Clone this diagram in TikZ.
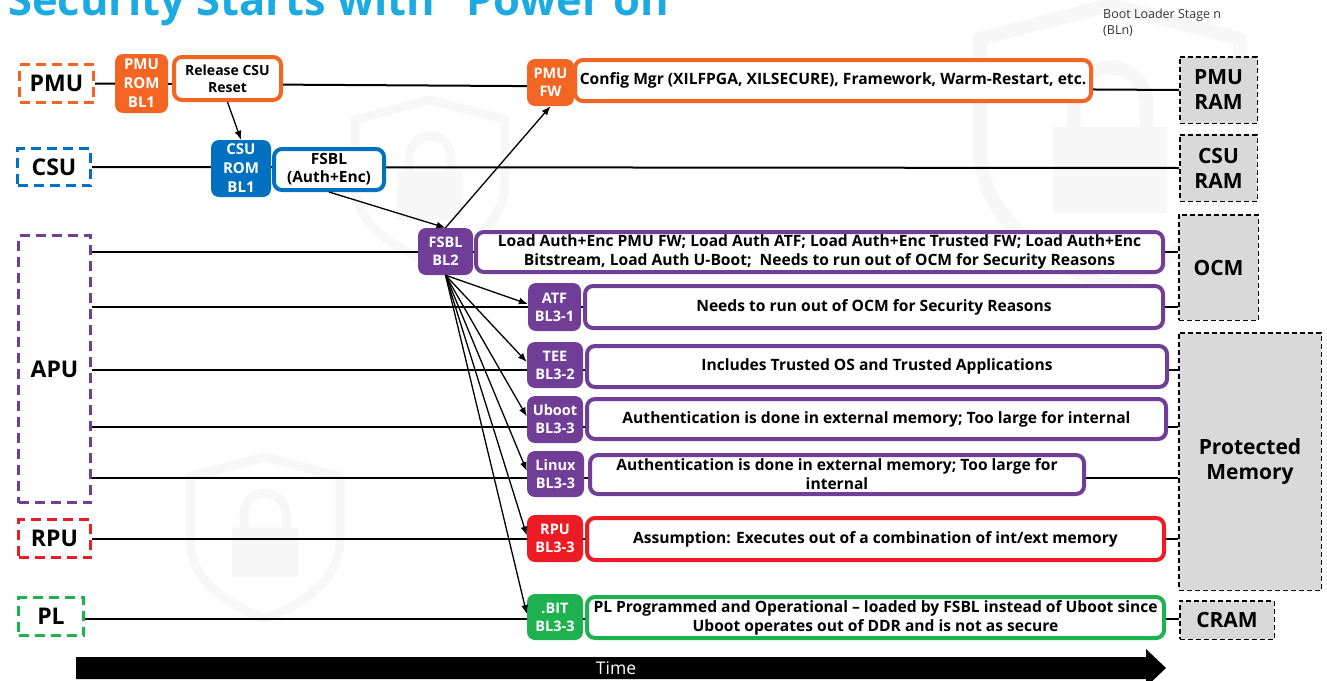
\documentclass[tikz,border=0pt]{standalone}
\usepackage{fontspec}
\setmainfont{Open Sans}
\usetikzlibrary{arrows.meta,calc}
\definecolor{xorange}{RGB}{242,101,34}
\definecolor{xblue}{RGB}{0,112,192}
\definecolor{xpurple}{RGB}{112,62,151}
\definecolor{xred}{RGB}{237,28,36}
\definecolor{xgreen}{RGB}{29,177,80}
\definecolor{xcyan}{RGB}{27,170,225}
\definecolor{memgray}{RGB}{217,217,217}
\definecolor{faint}{RGB}{247,247,247}
\pgfdeclarelayer{marks}
\pgfdeclarelayer{bg}
\pgfsetlayers{marks,bg,main}
\tikzset{
  src/.style={draw=#1, line width=3pt, dash pattern=on 10pt off 6pt,
    font=\fontsize{23}{26}\selectfont\bfseries, inner sep=0pt},
  tag/.style={fill=#1, rounded corners=8pt, text=white,
    font=\fontsize{14.5}{18}\selectfont\bfseries, align=center, inner sep=0pt},
  info/.style={draw=#1, fill=white, line width=4pt, rounded corners=8pt,
    font=\fontsize{15.6}{19}\selectfont\bfseries, align=center, inner sep=0pt},
  mem/.style={draw=black, fill=memgray, line width=1.5pt, dash pattern=on 5pt off 3pt,
    font=\fontsize{21}{25}\selectfont\bfseries, align=center, inner sep=0pt},
  wire/.style={line width=2pt},
  feed/.style={line width=1.3pt, -{Latex[length=9pt,width=7pt]}},
  % faint shield-and-padlock emblem in the background; unit size = width
  pics/shieldmark/.style={code={
    \draw[faint, line width=#1, line join=round]
      (0,0) -- (0.5,0.13) -- (0.5,0.55)
      .. controls (0.5,0.85) and (0.2,1.0) .. (0,1.08)
      .. controls (-0.2,1.0) and (-0.5,0.85) .. (-0.5,0.55)
      -- (-0.5,0.13) -- cycle;
    \draw[faint, line width=#1] (-0.14,0.5) -- (-0.14,0.38)
      arc[start angle=180, end angle=0, x radius=0.14, y radius=-0.14] -- (0.14,0.5);
    \fill[faint, rounded corners=0.04] (-0.22,0.47) rectangle (0.22,0.8);
  }},
}
\begin{document}
\begin{tikzpicture}[x=1pt,y=-1pt]
\useasboundingbox (0,0) rectangle (1327,680);

\begin{pgfonlayer}{marks}
  \pic[scale=150] at (430,100) {shieldmark=9pt};
  \pic[scale=150] at (265,457) {shieldmark=9pt};
  \pic[scale=260] at (1110,5) {shieldmark=14pt};
\end{pgfonlayer}

% title, partly above the page edge
\node[anchor=base west, inner sep=0pt, text=xcyan,
  font=\fontsize{43.5}{46}\selectfont\bfseries] (title) at (8,15)
  {Security Starts with “Power on”};

\node[anchor=north west, inner sep=0pt, text=black!80, align=left,
  font=\fontsize{12.5}{15.5}\selectfont] (legend) at (1103,9)
  {Boot Loader Stage n\\(BLn)};

% processing units
\node[src=xorange, minimum width=74pt, minimum height=38pt] (pmu) at (56.5,83.5) {PMU};
\node[src=xblue,   minimum width=73pt, minimum height=37pt] (csu) at (54,167) {CSU};
\node[src=xpurple, minimum width=72pt, minimum height=267pt] (apu) at (54.5,369) {APU};
\node[src=xred,    minimum width=72pt, minimum height=38pt] (rpu) at (54.5,538.5) {RPU};
\node[src=xgreen,  minimum width=65pt, minimum height=38pt] (pl)  at (51,616.5) {PL};

% boot stages
\node[tag=xorange, minimum width=53pt, minimum height=59pt, font=\fontsize{15}{19}\selectfont\bfseries]
  (pmurom) at (141.5,83.5) {PMU\\ROM\\BL1};
\node[info=xorange, minimum width=107pt, minimum height=43pt, font=\fontsize{14}{17}\selectfont\bfseries]
  (release) at (227.5,78.5) {Release CSU\\Reset};
\node[tag=xblue, minimum width=60pt, minimum height=57pt, font=\fontsize{15}{19}\selectfont\bfseries]
  (csurom) at (241,168.5) {CSU\\ROM\\BL1};
\node[info=xblue, minimum width=110pt, minimum height=41pt, font=\fontsize{15.5}{18}\selectfont\bfseries]
  (fsbl1) at (329,169.5) {FSBL\\(Auth+Enc)};

\node[tag=xorange, minimum width=47pt, minimum height=47pt] (pmufw) at (550.5,82.5) {PMU\\FW};
\node[info=xorange, minimum width=516pt, minimum height=41pt] (cfg) at (833,80.5)
  {Config Mgr (XILFPGA, XILSECURE), Framework, Warm-Restart, etc.};

\node[tag=xpurple, minimum width=55pt, minimum height=47pt] (fsbl2) at (445.5,251.5) {FSBL\\BL2};
\node[info=xpurple, minimum width=687pt, minimum height=40pt] (dfsbl2) at (819.5,252)
  {Load Auth+Enc PMU FW; Load Auth ATF; Load Auth+Enc Trusted FW; Load Auth+Enc\\
   Bitstream, Load Auth U-Boot;\ \ Needs to run out of OCM for Security Reasons};

\node[tag=xpurple, minimum width=53pt, minimum height=48pt] (atf) at (554.5,307) {ATF\\BL3-1};
\node[info=xpurple, minimum width=578pt, minimum height=42pt] (datf) at (874,307)
  {Needs to run out of OCM for Security Reasons};

\node[tag=xpurple, minimum width=56pt, minimum height=46pt] (tee) at (555,365) {TEE\\BL3-2};
\node[info=xpurple, minimum width=580pt, minimum height=41pt] (dtee) at (877,366.5)
  {Includes Trusted OS and Trusted Applications};

\node[tag=xpurple, minimum width=56pt, minimum height=47pt] (uboot) at (555,419.5) {Uboot\\BL3-3};
\node[info=xpurple, minimum width=579pt, minimum height=40pt] (duboot) at (876.5,419)
  {Authentication is done in external memory; Too large for internal};

\node[tag=xpurple, minimum width=57pt, minimum height=46pt] (linux) at (555.5,474) {Linux\\BL3-3};
\node[info=xpurple, minimum width=494pt, minimum height=39pt] (dlinux) at (837,474.5)
  {Authentication is done in external memory; Too large for\\internal};

\node[tag=xred, minimum width=56pt, minimum height=47pt] (rpul) at (555,538.5) {RPU\\BL3-3};
\node[info=xred, minimum width=577pt, minimum height=42pt] (drpu) at (875.5,539)
  {Assumption: Executes out of a combination of int/ext memory};

\node[tag=xgreen, minimum width=56pt, minimum height=46pt] (bit) at (555,617) {.BIT\\BL3-3};
\node[info=xgreen, minimum width=577pt, minimum height=41pt] (dbit) at (875.5,617.5)
  {PL Programmed and Operational – loaded by FSBL instead of Uboot since\\
   Uboot operates out of DDR and is not as secure};

% memories
\node[mem, minimum width=77.5pt, minimum height=66.5pt] (pmuram) at (1218.5,90) {PMU\\RAM};
\node[mem, minimum width=77.5pt, minimum height=66.5pt] (csuram) at (1218.5,168) {CSU\\RAM};
\node[mem, minimum width=79.5pt, minimum height=105.5pt] (ocm) at (1218.5,267.5) {OCM};
\node[mem, minimum width=142.5pt, minimum height=257.5pt] (pmem) at (1250,461.5) {Protected\\Memory};
\node[mem, minimum width=94.5pt, minimum height=38.5pt] (cram) at (1227,620) {CRAM};

% rows of the timeline wires that sit off the stage centres
\coordinate (teerow) at (0,370);
\coordinate (ubootrow) at (0,427);
\coordinate (linuxrow) at (0,478);
\coordinate (plrow) at (0,619);

\begin{pgfonlayer}{bg}
  \draw[wire] (pmu.east) -- (pmuram.west);
  \draw[wire] (csu.east) -- (csuram.west);
  \draw[wire] (apu.east |- fsbl2.west) -- (ocm.west |- fsbl2.west);
  \draw[wire] (apu.east |- atf.west) -- (ocm.west |- atf.west);
  \draw[wire] (apu.east |- teerow) -- (pmem.west |- teerow);
  \draw[wire] (apu.east |- ubootrow) -- (pmem.west |- ubootrow);
  \draw[wire] (apu.east |- linuxrow) -- (pmem.west |- linuxrow);
  \draw[wire] (rpu.east) -- (pmem.west |- rpu.east);
  \draw[wire] (pl.east |- plrow) -- (cram.west |- plrow);
\end{pgfonlayer}

% hand-offs between stages
\draw[feed] (release.south) -- (csurom.north);
\draw[feed] (fsbl1.south) -- (fsbl2.north);
\draw[feed] (fsbl2.north) -- (pmufw.south);
\foreach \t in {atf,tee,uboot,linux,rpul,bit}
  \draw[feed] (fsbl2.south) -- ($(\t.west)+(0,-3)$);

% time axis
\fill (76,657) -- (1146,657) -- (1146,649) -- (1166,668) -- (1146,687) -- (1146,679) -- (76,679) -- cycle;
\node[text=white, font=\fontsize{17.5}{19}\selectfont] (time) at (616,668) {Time};
\end{tikzpicture}
\end{document}
